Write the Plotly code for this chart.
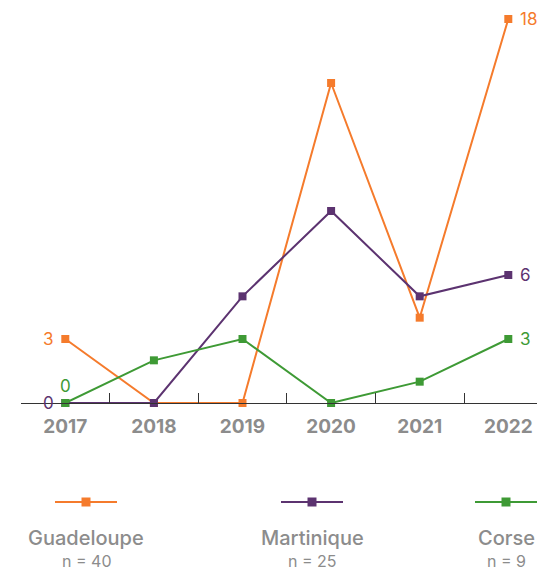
import plotly.graph_objects as go

years = ["2017", "2018", "2019", "2020", "2021", "2022"]
guadeloupe = [3, 0, 0, 15, 4, 18]
martinique = [0, 0, 5, 9, 5, 6]
corse = [0, 2, 3, 0, 1, 3]
names = ["Guadeloupe", "Martinique", "Corse"]
colors = ["#F57B2C", "#5C3370", "#3E9A35"]
series = [guadeloupe, martinique, corse]

W, H = 537, 571
L, R, T, B = 21, 0, 10, 168
plot_w = W - L - R
plot_h = H - T - B
cat_px = 88.6
x_max = -0.5 + plot_w / cat_px
px_per_unit = (403 - 19) / 18.0
y_top = (403 - T) / px_per_unit

FONT = "Inter"
GRAY = "#8C8C8C"

fig = go.Figure()
for name, vals, col in zip(names, series, colors):
    fig.add_trace(go.Scatter(
        x=years, y=vals, mode="lines+markers", name=name,
        line=dict(color=col, width=2),
        marker=dict(symbol="square", size=8, color=col),
        cliponaxis=False, showlegend=False,
    ))

# start / end value labels (x given as category index)
start_cfg = [
    dict(xanchor="right", yanchor="middle", xshift=-9, yshift=0),
    dict(xanchor="right", yanchor="middle", xshift=-9, yshift=0),
    dict(xanchor="center", yanchor="bottom", xshift=0, yshift=5),
]
first_i, last_i = 0, len(years) - 1
for vals, col, cfg in zip(series, colors, start_cfg):
    fig.add_annotation(x=first_i, y=vals[first_i], text=str(vals[first_i]), showarrow=False,
                       font=dict(family=FONT, size=17, color=col), **cfg)
    fig.add_annotation(x=last_i, y=vals[last_i], text=str(vals[last_i]), showarrow=False,
                       xanchor="left", yanchor="middle", xshift=10,
                       font=dict(family=FONT, size=17, color=col))

# custom legend
def xp(px):
    return (px - L) / plot_w

def yp(py):
    return (T + plot_h - py) / plot_h

totals = [sum(s) for s in series]
centers = [86, 312, 506]
for name, col, tot, c in zip(names, colors, totals, centers):
    fig.add_shape(type="line", xref="paper", yref="paper",
                  x0=xp(c - 31), x1=xp(c + 31), y0=yp(502), y1=yp(502),
                  line=dict(color=col, width=2))
    fig.add_shape(type="rect", xref="paper", yref="paper",
                  x0=xp(c - 4.5), x1=xp(c + 4.5), y0=yp(506.5), y1=yp(497.5),
                  line=dict(width=0), fillcolor=col)
    fig.add_annotation(xref="paper", yref="paper", x=xp(c), y=yp(538),
                       text=name, showarrow=False, xanchor="center", yanchor="middle",
                       font=dict(family=FONT, size=20, color=GRAY, weight=500))
    fig.add_annotation(xref="paper", yref="paper", x=xp(c), y=yp(561),
                       text=f"n = {tot}", showarrow=False, xanchor="center", yanchor="middle",
                       font=dict(family=FONT, size=16, color=GRAY))

fig.update_layout(
    width=W, height=H,
    margin=dict(l=L, r=R, t=T, b=B),
    paper_bgcolor="white", plot_bgcolor="white",
    xaxis=dict(type="category", range=[-0.5, x_max], showgrid=False, zeroline=False,
               showline=True, linecolor="#333333", linewidth=1,
               ticks="inside", tickson="boundaries", ticklen=10, tickcolor="#333333",
               ticklabelstandoff=6,
               tickfont=dict(family=FONT, size=19, color=GRAY, weight=700)),
    yaxis=dict(range=[0, y_top], visible=False),
)

fig.write_html("out.html", config={"displayModeBar": False, "responsive": False},
               post_script="document.body.style.margin='0px';")
